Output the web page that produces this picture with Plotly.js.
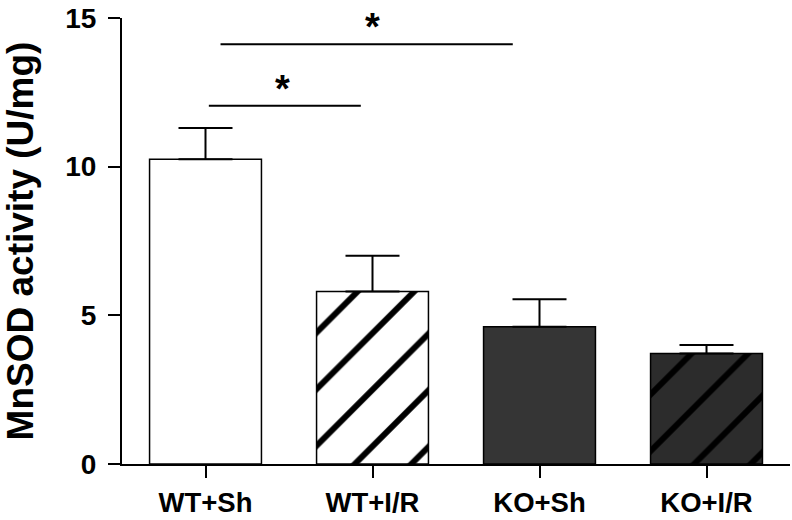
<!DOCTYPE html>
<html>
<head>
<meta charset="utf-8">
<script src="https://cdn.plot.ly/plotly-3.0.1.min.js"></script>
<style>html,body{margin:0;padding:0;background:#fff;} #chart{width:792px;height:520px;}</style>
</head>
<body>
<div id="chart"></div>
<script>
// Data
const categories = ['WT+Sh', 'WT+I/R', 'KO+Sh', 'KO+I/R'];
const means = [10.25, 5.8, 4.62, 3.72];
const sem = [1.05, 1.2, 0.92, 0.28];
const yTicks = [0, 5, 10, 15];
// significance brackets (category-index coordinates)
const sigX0 = [0.02, 0.09];
const sigX1 = [0.93, 1.84];
const sigY = [12.05, 14.12];
const starX = [0.46, 1.0];
const starText = ['*', '*'];

const fillColors = ['#ffffff', '#ffffff', '#353535', '#2c2c2c'];
const patternShapes = ['', '/', '', '/'];

const FONT = 'Liberation Sans, Arial, sans-serif';

const traces = categories.map((cat, i) => ({
  type: 'bar',
  x: [cat],
  y: [means[i]],
  width: 0.67,
  marker: {
    color: fillColors[i],
    line: {color: '#000000', width: 1.5},
    pattern: {
      shape: patternShapes[i],
      bgcolor: fillColors[i],
      fgcolor: '#000000',
      fgopacity: 1,
      size: 40,
      solidity: 0.15,
      fillmode: 'overlay'
    }
  },
  error_y: {
    type: 'data',
    symmetric: false,
    array: [sem[i]],
    arrayminus: [0],
    color: '#000000',
    thickness: 2,
    width: 27
  },
  hoverinfo: 'skip'
}));

const shapes = sigY.map((y, i) => ({
  type: 'line', xref: 'x', yref: 'y',
  x0: sigX0[i], x1: sigX1[i], y0: y, y1: y,
  line: {color: '#000000', width: 2}
}));

const annotations = sigY.map((y, i) => ({
  xref: 'x', yref: 'y', x: starX[i], y: y,
  text: starText[i], showarrow: false,
  xanchor: 'center', yanchor: 'bottom', yshift: -6,
  font: {family: FONT, size: 38, color: '#000000', weight: 'bold'}
}));

const layout = {
  width: 792, height: 520,
  margin: {l: 122, r: 2, t: 18, b: 56},
  paper_bgcolor: '#ffffff', plot_bgcolor: '#ffffff',
  showlegend: false,
  barmode: 'overlay',
  xaxis: {
    type: 'category',
    categoryorder: 'array', categoryarray: categories,
    range: [-0.5, 3.5],
    showline: true, linecolor: '#000000', linewidth: 2,
    ticks: 'outside', ticklen: 12, tickwidth: 2, tickcolor: '#000000',
    showgrid: false, zeroline: false,
    tickfont: {family: FONT, size: 27.5, color: '#000000', weight: 'bold'},
    ticklabelstandoff: 1
  },
  yaxis: {
    range: [0, 15],
    tickvals: yTicks,
    ticktext: yTicks.map(String),
    showline: true, linecolor: '#000000', linewidth: 2,
    ticks: 'outside', ticklen: 12, tickwidth: 2, tickcolor: '#000000',
    showgrid: false, zeroline: false,
    tickfont: {family: FONT, size: 28, color: '#000000', weight: 'bold'},
    ticklabelstandoff: 6,
    title: {text: 'MnSOD activity (U/mg)', font: {family: FONT, size: 37, color: '#000000', weight: 'bold'}, standoff: 26}
  },
  shapes: shapes,
  annotations: annotations
};

Plotly.newPlot('chart', traces, layout, {displayModeBar: false, staticPlot: true});
</script>
</body>
</html>
